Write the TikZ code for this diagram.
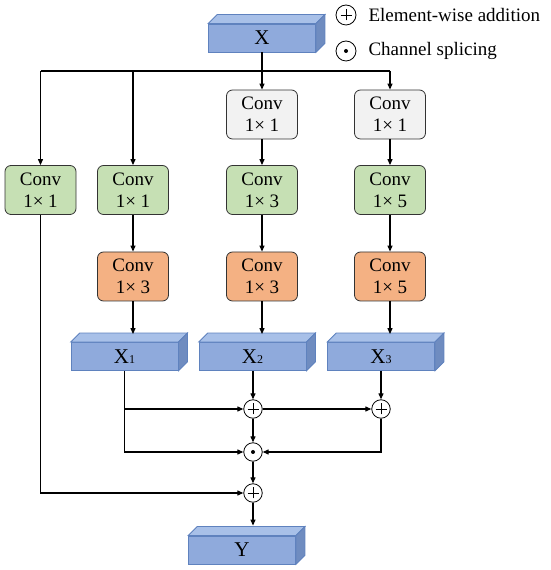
\documentclass[tikz,border=0pt]{standalone}
\usepackage{fontspec}
\setmainfont{Liberation Serif}
\usetikzlibrary{arrows.meta,calc}
\definecolor{bfront}{HTML}{8FAADC}
\definecolor{btop}{HTML}{A8C0E8}
\definecolor{bside}{HTML}{6F8CC0}
\definecolor{bedge}{HTML}{5F82BE}
\definecolor{cgreen}{HTML}{C6E0B4}
\definecolor{corange}{HTML}{F4B183}
\definecolor{cgray}{HTML}{F2F2F2}
\newcommand\boxfaces[1]{%
  \filldraw[fill=btop,draw=bedge,line width=0.8pt] (#1.north west) -- ++(9,9) -- ([shift={(9,9)}]#1.north east) -- (#1.north east) -- cycle;
  \filldraw[fill=bside,draw=bedge,line width=0.8pt] (#1.north east) -- ++(9,9) -- ([shift={(9,9)}]#1.south east) -- (#1.south east) -- cycle;}
\begin{document}
\begin{tikzpicture}[x=1pt,y=1pt,line width=1.1pt,
  >={Triangle[length=6pt,width=5pt]},
  conv/.style={draw=black!80,rounded corners=6pt,minimum width=71pt,minimum height=49pt,
    align=center,font=\fontsize{19}{22}\selectfont,line width=0.8pt,inner sep=0pt},
  feat/.style={draw=bedge,fill=bfront,minimum width=107pt,minimum height=28pt,inner sep=0pt,
    font=\fontsize{21}{21}\selectfont,line width=0.8pt},
  op/.style={circle,draw,fill=white,minimum size=18.5pt,inner sep=0pt,line width=0.8pt},
  plusop/.style={op,path picture={\draw[black,line width=0.7pt]
      ([xshift=-5.5pt]path picture bounding box.center) -- ([xshift=5.5pt]path picture bounding box.center)
      ([yshift=-5.5pt]path picture bounding box.center) -- ([yshift=5.5pt]path picture bounding box.center);}},
  dotop/.style={op,path picture={\fill[black] (path picture bounding box.center) circle (2pt);}},
  legtext/.style={anchor=west,font=\fontsize{19}{22}\selectfont,inner sep=0pt}
]
\useasboundingbox (0,0) rectangle (550,570);

% input box
\node[feat] (X) at (262,532) {X};
\boxfaces{X}

% legend
\node[plusop,minimum size=20pt] (lp) at (346,555) {};
\node[legtext] (lpt) at (368,555) {Element-wise addition};
\node[dotop,minimum size=20pt] (ld) at (346,519) {};
\node[legtext] (ldt) at (368,519) {Channel splicing};

% conv boxes
\node[conv,fill=cgreen] (c1) at (40.5,380) {Conv\\1\texttimes{} 1};
\node[conv,fill=cgreen] (c2) at (133,380) {Conv\\1\texttimes{} 1};
\node[conv,fill=corange] (o2) at (133,293.5) {Conv\\1\texttimes{} 3};
\node[conv,fill=cgray] (g3) at (262,455.5) {Conv\\1\texttimes{} 1};
\node[conv,fill=cgreen] (c3) at (262,380) {Conv\\1\texttimes{} 3};
\node[conv,fill=corange] (o3) at (262,293.5) {Conv\\1\texttimes{} 3};
\node[conv,fill=cgray] (g4) at (390,455.5) {Conv\\1\texttimes{} 1};
\node[conv,fill=cgreen] (c4) at (390,380) {Conv\\1\texttimes{} 5};
\node[conv,fill=corange] (o4) at (390,293.5) {Conv\\1\texttimes{} 5};

% feature boxes
\node[feat] (X1) at (124.5,213.5) {X{\fontsize{12}{12}\selectfont 1}};
\boxfaces{X1}
\node[feat] (X2) at (252.5,213.5) {X{\fontsize{12}{12}\selectfont 2}};
\boxfaces{X2}
\node[feat] (X3) at (381,213.5) {X{\fontsize{12}{12}\selectfont 3}};
\boxfaces{X3}
\node[feat] (Y) at (242,20) {Y};
\boxfaces{Y}

% operators
\node[plusop] (p1) at (253,161) {};
\node[plusop] (p2) at (381,161) {};
\node[dotop] (d) at (253,118) {};
\node[plusop] (p3) at (253,77) {};

% top distribution
\coordinate (J) at (262,499);
\draw[->] (X.south) -- (g3.north);
\draw (c1.north |- J) -- (g4.north |- J);
\draw[->] (c1.north |- J) -- (c1.north);
\draw[->] (c2.north |- J) -- (c2.north);
\draw[->] (g4.north |- J) -- (g4.north);

% columns
\draw[->] (c2) -- (o2);
\draw[->] (g3) -- (c3);
\draw[->] (c3) -- (o3);
\draw[->] (g4) -- (c4);
\draw[->] (c4) -- (o4);
\coordinate (Xtop) at ([yshift=8pt]X1.north);
\draw[->] (o2.south) -- (o2.south |- Xtop);
\draw[->] (o3.south) -- (o3.south |- Xtop);
\draw[->] (o4.south) -- (o4.south |- Xtop);

% fusion
\draw[->] (X1.south) |- (d.west);
\draw[->] (X1.south |- p1) -- (p1.west);
\draw[->] (p1.north |- X2.south) -- (p1.north);
\draw[->] (X3.south) -- (p2.north);
\draw[->] (p1.east) -- (p2.west);
\draw[->] (p2.south) |- (d.east);
\draw[->] (p1.south) -- (d.north);
\draw[->] (d.south) -- (p3.north);
\draw[->] (c1.south) |- (p3.west);
\coordinate (Ytop) at ([yshift=10pt]Y.north);
\draw[->] (p3.south) -- (p3.south |- Ytop);
\end{tikzpicture}
\end{document}
